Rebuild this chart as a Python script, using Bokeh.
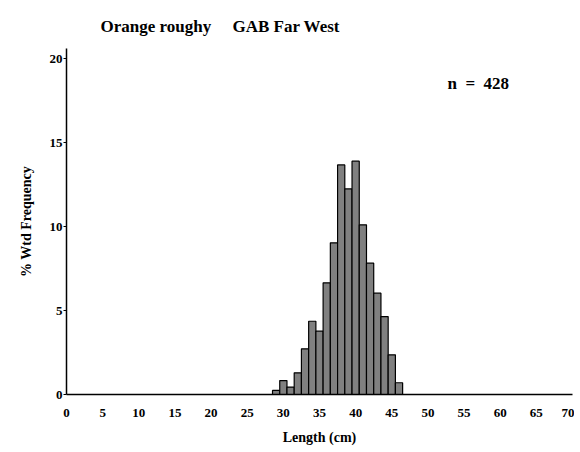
from bokeh.plotting import figure
from bokeh.models import Range1d, Label, FixedTicker
from bokeh.embed import file_html
from bokeh.resources import INLINE

lengths = [29, 30, 31, 32, 33, 34, 35, 36, 37, 38, 39, 40, 41, 42, 43, 44, 45, 46]
freq = [0.24, 0.83, 0.44, 1.29, 2.72, 4.36, 3.77, 6.65, 9.03, 13.67, 12.24, 13.89,
        10.1, 7.82, 6.03, 4.64, 2.36, 0.70]
x_ticks = list(range(0, 71, 5))
y_ticks = [0, 5, 10, 15, 20]

FONT = "Liberation Serif"

p = figure(frame_width=506, frame_height=346, output_backend="svg", toolbar_location=None,
           x_range=Range1d(0, 70), y_range=Range1d(0, 20.6),
           min_border_left=66, min_border_right=2, min_border_top=48, min_border_bottom=10)
p.outline_line_color = None
p.grid.visible = False
p.background_fill_color = "white"

p.title.text = "Orange roughy\u00a0\u00a0\u00a0\u00a0\u00a0GAB Far West"
p.title.text_font = FONT
p.title.text_font_style = "bold"
p.title.text_font_size = "17px"
p.title.text_color = "black"
p.title.align = "left"
p.title.offset = 34
p.title.standoff = 25

p.vbar(x=lengths, top=freq, width=1, bottom=0, fill_color="#808080",
       line_color="black", line_width=1.2)

p.xaxis.ticker = FixedTicker(ticks=x_ticks)
p.yaxis.ticker = FixedTicker(ticks=y_ticks)
for ax in (p.xaxis[0], p.yaxis[0]):
    ax.axis_line_color = "black"
    ax.axis_line_width = 1.5
    ax.major_label_text_font = FONT
    ax.major_label_text_font_style = "bold"
    ax.major_label_text_font_size = "13px"
    ax.major_label_text_color = "black"
    ax.axis_label_text_font = FONT
    ax.axis_label_text_font_style = "bold"
    ax.axis_label_text_font_size = "14px"
    ax.axis_label_text_color = "black"
    ax.minor_tick_line_color = None
p.xaxis.major_tick_line_color = None
p.xaxis.major_label_standoff = 8
p.yaxis.major_tick_in = 0
p.yaxis.major_tick_out = 3
p.yaxis.major_label_standoff = 1
p.xaxis.axis_label = "Length (cm)"
p.yaxis.axis_label = "% Wtd Frequency"
p.yaxis.axis_label_standoff = 13
p.xaxis.axis_label_standoff = 10

p.add_layout(Label(x=52.7, y=18.5, text="n\u00a0\u00a0=\u00a0\u00a0428",
                   text_font=FONT, text_font_style="bold", text_font_size="17px",
                   text_baseline="middle", text_color="black"))

open("out.html", "w").write(file_html(p, INLINE))
